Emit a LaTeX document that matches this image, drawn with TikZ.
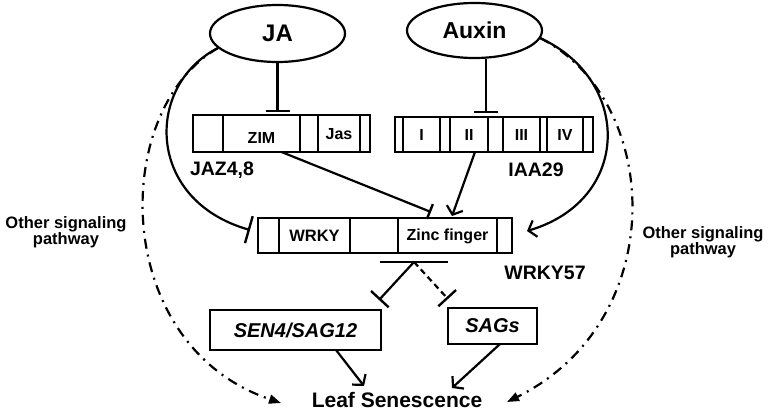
\documentclass[tikz,border=0pt]{standalone}
\usepackage{fontspec}
\setmainfont{Liberation Sans}
\usetikzlibrary{arrows.meta,shapes.geometric}
\newcommand\myfs[1]{\fontsize{#1}{#1}\selectfont}
\begin{document}
\begin{tikzpicture}[x=1pt,y=-1pt,
  every node/.style={font=\bfseries},
  lw/.style={line width=2.2pt},
  boxst/.style={draw,lw,rectangle,anchor=north west,inner sep=0pt,outer sep=0pt},
  inh/.style={lw,-{Bar[width=#1,line width=2.4pt]}},
  inh/.default=24pt,
  act/.style={lw,-{Straight Barb[length=7pt,width=17pt,line width=2.2pt]}},
  dd/.style={lw,dash pattern=on 10pt off 6pt on 2pt off 6pt,-{Triangle[length=12pt,width=9pt]}},
  sig/.style={align=center,font=\bfseries\myfs{16.5}}
]
\useasboundingbox (0,0) rectangle (770,412);

% ellipses
\node[ellipse,draw,lw,minimum width=135pt,minimum height=57pt,inner sep=0pt] (ja) at (277.5,33.5) {\myfs{24}JA};
\node[ellipse,draw,lw,minimum width=135pt,minimum height=55pt,inner sep=0pt] (aux) at (474.5,30.5) {\myfs{23}Auxin};

% JAZ box
\node[boxst,minimum width=177pt,minimum height=37pt] (jaz) at (193,115) {};
\foreach \x in {223,300,318,360} \draw[lw] (\x,115) -- (\x,152);
\node (zim) at (261.5,138) {\myfs{16}ZIM};
\node (jas) at (339,134) {\myfs{16}Jas};
\node (jazl) at (222,170) {\myfs{19.5}JAZ4,8};

% IAA box
\node[boxst,minimum width=198pt,minimum height=35pt] (iaa) at (395,117) {};
\foreach \x in {403,440,450,488,503,540,547,583} \draw[lw] (\x,117) -- (\x,152);
\node (d1) at (421.5,134.5) {\myfs{16}I};
\node (d2) at (469,134.5) {\myfs{16}II};
\node (d3) at (521.5,134.5) {\myfs{16}III};
\node (d4) at (565,134.5) {\myfs{16}IV};
\node (iaal) at (536,170) {\myfs{19.5}IAA29};

% WRKY57 box
\node[boxst,minimum width=254pt,minimum height=35pt] (wrky) at (258,218) {};
\foreach \x in {279,350,398,497} \draw[lw] (\x,218) -- (\x,253);
\node (wd) at (314.5,236) {\myfs{16.5}WRKY};
\node (zf) at (447.5,236) {\myfs{16}Zinc finger};
\node (wl) at (545,273) {\myfs{19.5}WRKY57};

% targets
\node[boxst,minimum width=171pt,minimum height=40pt] (sen) at (210,310) {};
\node at (sen.center) {\myfs{20}\itshape SEN4/SAG12};
\node[boxst,minimum width=89pt,minimum height=36pt] (sags) at (448,308) {};
\node at (sags.center) {\myfs{20}\itshape SAGs};
\node[inner sep=1pt] (leaf) at (397,400) {\myfs{21}Leaf Senescence};

% other signalling labels
\node[sig] (osl) at (66,232) {Other signaling\\pathway};
\node[sig] (osr) at (703,242) {Other signaling\\pathway};

% coordinates
\coordinate (jabar) at (ja.south |- 0,112);
\coordinate (auxbar) at (486,113);
\coordinate (wz1) at (431,212);
\coordinate (wz2) at (452,216);
\coordinate (jaL) at (218,48);
\coordinate (auxR) at (540,38);
\coordinate (wL) at (250,230);
\coordinate (wR) at (527,231);
\coordinate (apex) at (414,262);
\coordinate (barL) at (380,262);
\coordinate (barR) at (448,262);
\coordinate (tL) at (379,300);
\coordinate (tR) at (448,299);
\coordinate (lsL) at (281,403);
\coordinate (lsR) at (507,402);
\coordinate (senA) at (364,386);
\coordinate (sagA) at (452,388);

% JA -| JAZ, Auxin -| IAA
\draw[inh] (ja.south) -- (jabar);
\draw[inh] (auxbar |- aux.south) -- (auxbar);

% JAZ -| WRKY, IAA -> WRKY
\draw[inh=16pt] (jaz.south) -- (wz1);
\draw[act] (475,152) -- (wz2);

% direct JA and Auxin curves
\draw[inh=28pt] (jaL) .. controls (145,85) and (145,200) .. (wL);
\draw[act] (auxR) .. controls (632,80) and (632,200) .. (wR);

% other signaling dash-dot curves
\draw[dd] (jaL) .. controls (110,110) and (110,345) .. (lsL);
\draw[dd] (auxR) .. controls (662,100) and (672,320) .. (lsR);

% WRKY57 outputs
\draw[lw] (barL) -- (barR);
\draw[inh=24pt] (apex) -- (tL);
\draw[inh=24pt,dash pattern=on 6pt off 4pt] (apex) -- (tR);

\draw[act] (336,350) -- (senA);
\draw[act] (500,344) -- (sagA);
\end{tikzpicture}
\end{document}
